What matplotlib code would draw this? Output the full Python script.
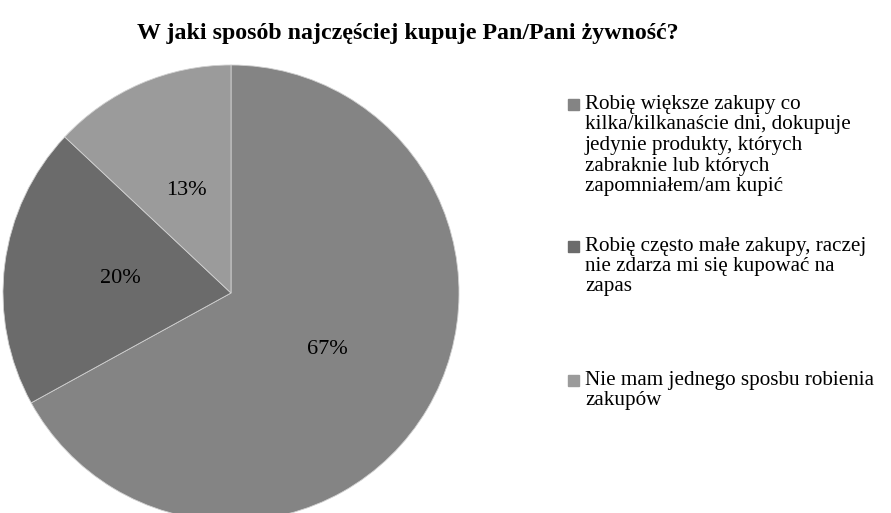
import matplotlib
matplotlib.use('Agg')
from matplotlib import pyplot
from matplotlib.patches import Rectangle

title = 'W jaki sposób najczęściej kupuje Pan/Pani żywność?'
labels = ['Robię większe zakupy co\nkilka/kilkanaście dni, dokupuje\njedynie produkty, których\nzabraknie lub których\nzapomniałem/am kupić',
          'Robię często małe zakupy, raczej\nnie zdarza mi się kupować na\nzapas',
          'Nie mam jednego sposbu robienia\nzakupów']
shares = [67, 20, 13]
colors = ['#848484', '#6b6b6b', '#9b9b9b']

pyplot.rcParams['font.family'] = ['Liberation Serif', 'DejaVu Serif']

W, H = 891, 513
fig = pyplot.figure(figsize=(W / 100, H / 100), dpi=100)

# pie axes: centre (231, 293) px, radius 228 px
r = 228
ax = fig.add_axes([(231 - r) / W, (H - 293 - r) / H, 2 * r / W, 2 * r / H])
ax.pie(shares, colors=colors, startangle=90, counterclock=False, radius=1,
       autopct='%1.0f%%', pctdistance=0.49,
       wedgeprops=dict(edgecolor='#d0d0d0', linewidth=0.6),
       textprops=dict(fontsize=16, color='black'))
ax.set_xlim(-1, 1)
ax.set_ylim(-1, 1)
ax.set_aspect('equal')
ax.axis('off')

fig.text(408 / W, 1 - 33 / H, title, ha='center', va='center',
         fontsize=17.2, fontweight='bold')

# legend drawn by hand
entry_y = [104.5, 246, 380]
pitch = 20.5
for lab, col, y0 in zip(labels, colors, entry_y):
    fig.patches.append(Rectangle((568 / W, 1 - (y0 + 5.5) / H), 11 / W, 11 / H,
                                 transform=fig.transFigure, color=col))
    for i, line in enumerate(lab.split('\n')):
        fig.text(585 / W, 1 - (y0 + i * pitch) / H, line, ha='left', va='center',
                 fontsize=15.2)

fig.savefig('out.png', dpi=100)
